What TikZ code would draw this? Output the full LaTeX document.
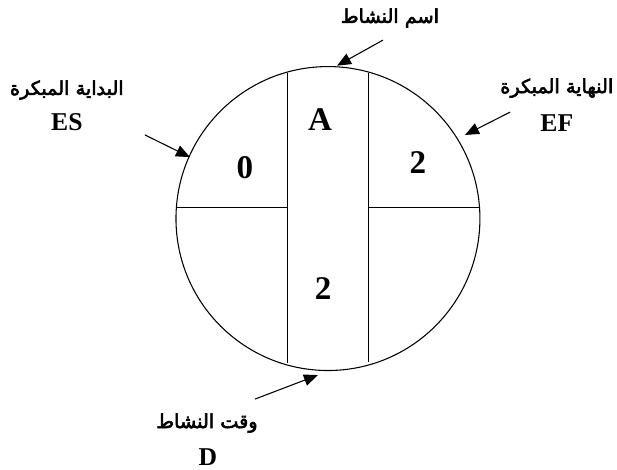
\documentclass[tikz,border=0pt]{standalone}
\usepackage{fontspec}
\setmainfont{Liberation Serif}
\newfontfamily\arabicfont[Script=Arabic,FakeBold=3]{DejaVu Sans}
\TeXXeTstate=1
\usetikzlibrary{arrows.meta}
\newcommand{\ar}[1]{{\arabicfont\beginR #1\endR}}

\begin{document}
\begin{tikzpicture}[
    inlab/.style={font=\fontsize{31}{31}\selectfont\bfseries},
    outlab/.style={font=\fontsize{24}{24}\selectfont\bfseries},
    arlab/.style={font=\fontsize{18}{18}\selectfont},
    pointer/.style={line width=1pt, -{Triangle[length=4.6mm,width=3.8mm]}}]
		\useasboundingbox (-10.79,-8.27) rectangle (9.51,7.19);
		
		\draw[line width=1pt] (0,0) circle (5);
		\draw[line width=1pt] (-1.32,4.78) -- (-1.32,-4.76);
		\draw[line width=1pt] (1.32,4.8) -- (1.32,-4.72);
		\draw[line width=1pt] (-4.99,0.35) -- (-1.32,0.35);
		\draw[line width=1pt] (1.32,0.35) -- (4.99,0.35);
		
		\node[inlab] (es val) at (-2.73,1.69) {0};
		\node[inlab] (name) at (-0.26,3.24) {A};
		\node[inlab] (dur val) at (-0.16,-2.29) {2};
		\node[inlab] (ef val) at (2.96,1.83) {2};
		
		\node[arlab] (name lab) at (2.04,6.6) {\ar{اسم النشاط}};
		\node[arlab] (es lab) at (-8.59,4.23) {\ar{البداية المبكرة}};
		\node[outlab] (es) at (-8.59,3.17) {ES};
		\node[arlab] (ef lab) at (7.53,4.29) {\ar{النهاية المبكرة}};
		\node[outlab] (ef) at (7.53,3.14) {EF};
		\node[arlab] (dur lab) at (-3.98,-6.73) {\ar{وقت النشاط}};
		\node[outlab] (dur) at (-3.95,-7.85) {D};
		
		\coordinate (name from) at (1.81,5.87);
		\coordinate (name to) at (0.3,5.03);
		\coordinate (es from) at (-6.02,2.75);
		\coordinate (es to) at (-4.54,2.02);
		\coordinate (ef from) at (5.99,3.5);
		\coordinate (ef to) at (4.51,2.75);
		\coordinate (dur from) at (-2.4,-5.94);
		\coordinate (dur to) at (-0.33,-5.15);
		
		\draw[pointer] (name from) -- (name to);
		\draw[pointer] (es from) -- (es to);
		\draw[pointer] (ef from) -- (ef to);
		\draw[pointer] (dur from) -- (dur to);
	\end{tikzpicture}
\end{document}
